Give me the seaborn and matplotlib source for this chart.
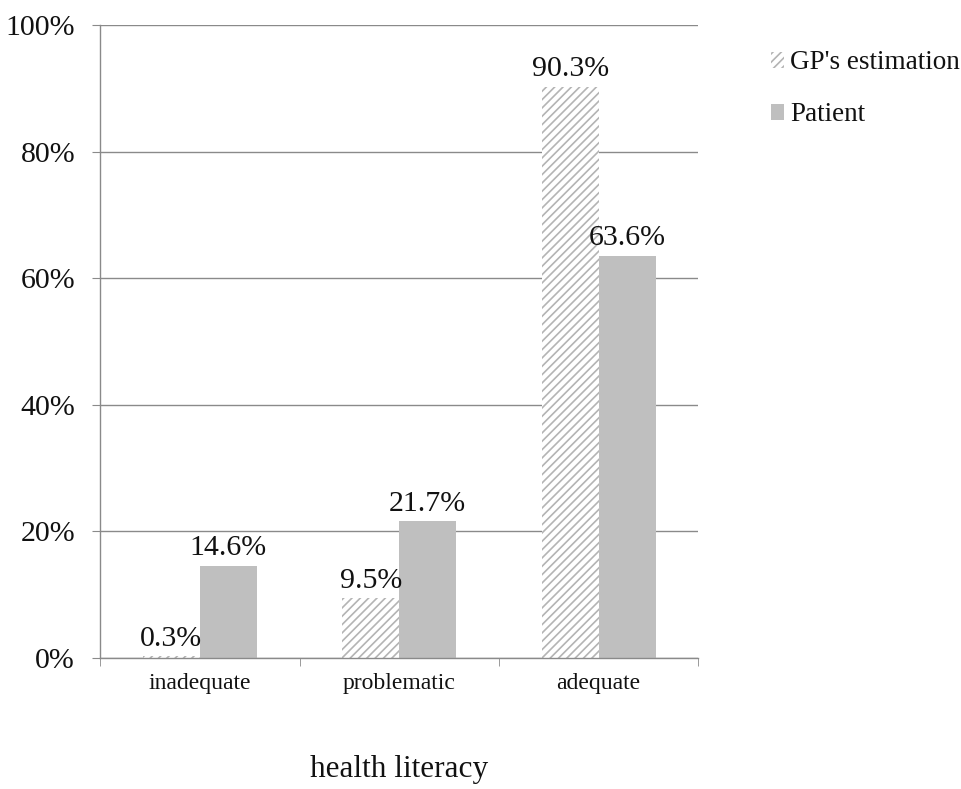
import pandas as pd
import seaborn as sns
import matplotlib.pyplot as plt
from matplotlib.patches import Patch
from matplotlib.ticker import FixedLocator, PercentFormatter

# データ
categories = ["inadequate", "problematic", "adequate"]
groups = ["GP's estimation", "Patient"]
gp_values = [0.3, 9.5, 90.3]
patient_values = [14.6, 21.7, 63.6]

df = pd.DataFrame({
    "literacy": categories * 2,
    "group": [groups[0]] * 3 + [groups[1]] * 3,
    "value": gp_values + patient_values,
})

sns.set_style("white")
plt.rcParams['font.family'] = ['Liberation Serif', 'DejaVu Serif']
plt.rcParams['hatch.color'] = '#b4b4b4'
plt.rcParams['hatch.linewidth'] = 1.2

fig = plt.figure(figsize=(9.62, 7.89), dpi=100)
ax = fig.add_axes([0.104, 0.166, 0.622, 0.802])

sns.barplot(data=df, x="literacy", y="value", hue="group", order=categories,
            hue_order=groups, palette=["white", "#bfbfbf"], width=0.57,
            gap=0, legend=False, ax=ax, linewidth=0)

# GPの棒にハッチング
for bar in ax.containers[0]:
    bar.set_hatch("////")
    bar.set_edgecolor("#b4b4b4")
    bar.set_linewidth(0)

# 数値ラベル
for cont in ax.containers:
    ax.bar_label(cont, labels=[f"{v.get_height():.1f}%" for v in cont],
                 fontsize=21.5, padding=3, color="#111111")

ax.set_ylim(0, 100)
ax.set_xlim(-0.5, 2.5)
ax.yaxis.set_major_locator(FixedLocator([0, 20, 40, 60, 80, 100]))
ax.yaxis.set_major_formatter(PercentFormatter(decimals=0))
ax.grid(axis="y", color="#8a8a8a", linewidth=1)
ax.set_axisbelow(True)

for s in ["top", "right"]:
    ax.spines[s].set_visible(False)
for s in ["left", "bottom"]:
    ax.spines[s].set_color("#8a8a8a")
    ax.spines[s].set_linewidth(1)

ax.tick_params(axis="y", which="major", left=True, length=6, color="#8a8a8a",
               labelsize=21.5, pad=12, labelcolor="#111111")
ax.tick_params(axis="x", which="major", bottom=False, labelsize=17, pad=7,
               labelcolor="#111111")
ax.xaxis.set_minor_locator(FixedLocator([-0.5, 0.5, 1.5, 2.5]))
ax.tick_params(axis="x", which="minor", bottom=True, length=6, color="#8a8a8a")

ax.set_ylabel("")
ax.set_xlabel("health literacy", fontsize=22.5, labelpad=44, color="#111111")

handles = [Patch(facecolor="white", edgecolor="#b4b4b4", hatch="////", linewidth=0),
           Patch(facecolor="#bfbfbf", linewidth=0)]
fig.legend(handles, groups, loc="upper left", bbox_to_anchor=(0.776, 0.967),
           frameon=False, fontsize=19.5, handlelength=0.5, handleheight=0.5,
           handletextpad=0.2, labelspacing=1.0, labelcolor="#111111")

fig.savefig("out.png", dpi=100)
